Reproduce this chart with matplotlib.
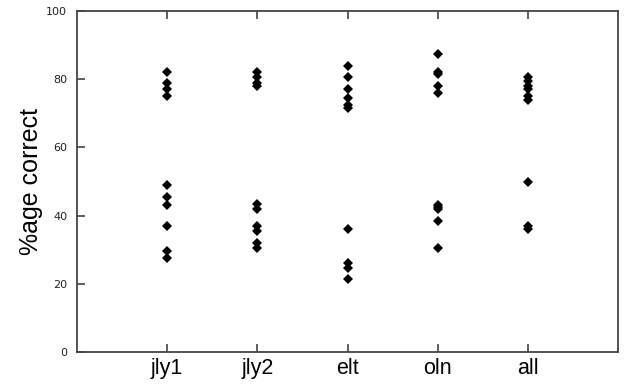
import matplotlib
matplotlib.use("Agg")
import matplotlib.pyplot as plt

categories = ["jly1", "jly2", "elt", "oln", "all"]
jly1 = [82, 79, 77, 75, 49, 45.5, 43, 37, 29.5, 27.5]
jly2 = [82, 80.5, 79, 78, 43.5, 42, 37, 35.5, 32, 30.5]
elt = [84, 80.5, 77, 74.5, 72.5, 71.5, 36, 26, 24.5, 21.5]
oln = [87.5, 82, 81.5, 78, 76, 43, 42.5, 42, 38.5, 30.5]
all_ = [80.5, 79.5, 78, 77, 75, 74, 50, 37, 36]
series = [jly1, jly2, elt, oln, all_]
yticks = [0, 20, 40, 60, 80, 100]

fig = plt.figure(figsize=(6.3, 3.88), dpi=100)
ax = fig.add_axes([77/630, 1 - 352/388, (618-77)/630, (352-11)/388])

for i, vals in enumerate(series, start=1):
    ax.plot([i]*len(vals), vals, linestyle="none", marker="D",
            markersize=5.2, color="black", markeredgewidth=0)

ax.set_xlim(0, 6)
ax.set_ylim(0, 100)
ax.set_xticks(range(1, 6))
ax.set_xticklabels(categories, fontsize=15.5, family="Liberation Sans")
ax.set_yticks(yticks)
ax.set_yticklabels([str(t) for t in yticks], fontsize=8, family="DejaVu Sans",
                   color="#222222")
ax.tick_params(axis="both", direction="in", length=6, width=1.2, color="#444444",
               top=True, right=False)
ax.tick_params(axis="x", pad=4)
ax.tick_params(axis="y", pad=7)
for s in ax.spines.values():
    s.set_color("#444444")
    s.set_linewidth(1.3)
ax.set_ylabel("%age correct", fontsize=18, family="Liberation Sans", labelpad=2)

fig.savefig("out.png", dpi=100)
